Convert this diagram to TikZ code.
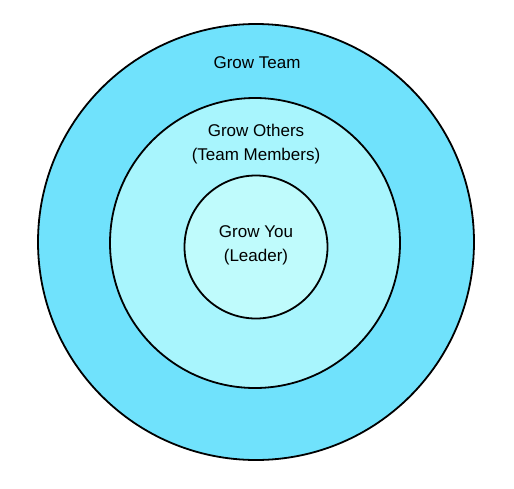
\documentclass[tikz,border=0pt]{standalone}
\usepackage{fontspec}
\setmainfont{Liberation Sans}
\definecolor{outerc}{HTML}{70E2FC}
\definecolor{midc}{HTML}{A8F5FD}
\definecolor{innerc}{HTML}{BFFBFC}
\begin{document}
\begin{tikzpicture}[x=1pt,y=-1pt,
  ring/.style={circle,draw=black,line width=1.8pt,inner sep=0pt},
  lbl/.style={font=\fontsize{17}{24}\selectfont,align=center,inner sep=0pt}]
\useasboundingbox (0,0) rectangle (514,488);
\node[ring,fill=outerc,minimum size=436pt] (outer) at (256,242) {};
\node[ring,fill=midc,minimum size=290pt] (middle) at (255,243) {};
\node[ring,fill=innerc,minimum size=143pt] (inner) at (256,247) {};
\node[lbl] (t1) at (257,63) {Grow Team};
\node[lbl] (t2) at (256,144) {Grow Others\\(Team Members)};
\node[lbl] (t3) at (256,245) {Grow You\\(Leader)};
\end{tikzpicture}
\end{document}
